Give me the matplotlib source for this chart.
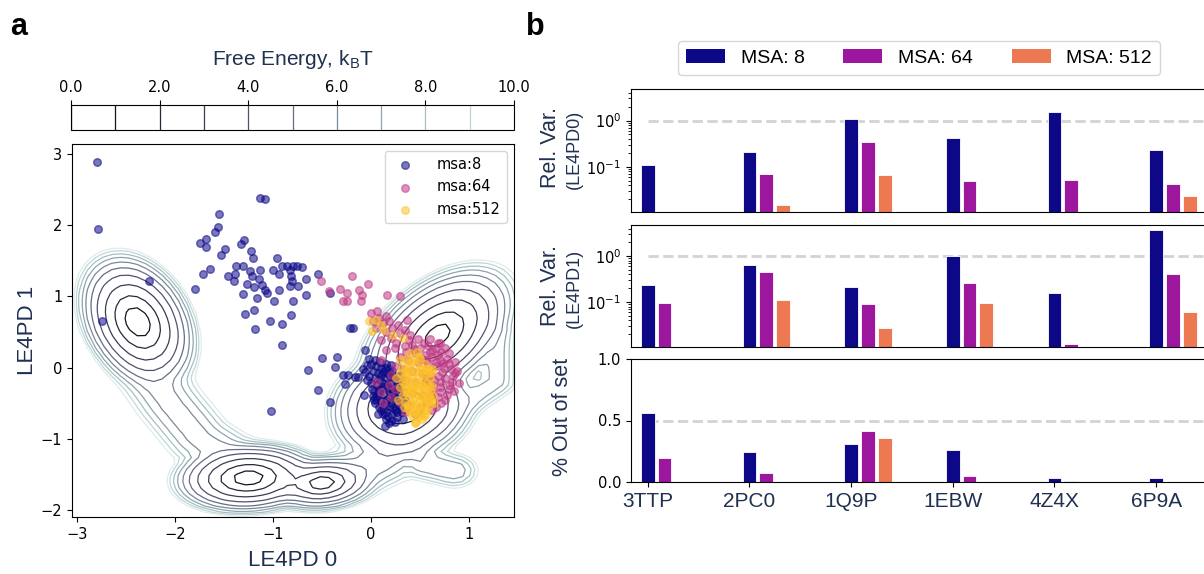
import matplotlib
matplotlib.use('Agg')
import matplotlib.pyplot as plt
import numpy as np
from matplotlib.patches import Patch

# ---------------- panel a data ----------------
msa8_pts = [(-2.79, 2.89), (-2.78, 1.94), (-2.74, 0.66), (-2.26, 1.22), (-1.13, 2.38), (-1.08, 2.37),
            (-1.55, 2.16), (-1.56, 1.98), (-1.59, 1.91), (-1.74, 1.75), (-1.68, 1.81), (-1.68, 1.70),
            (-1.49, 1.66), (-1.53, 1.58), (-1.71, 1.32), (-1.64, 1.38), (-1.80, 1.10), (-1.30, 1.79),
            (-1.33, 1.73), (-1.22, 1.64), (-1.20, 1.54), (-0.96, 1.54), (-1.455, 1.29), (-1.39, 1.32),
            (-1.40, 1.22), (-1.38, 1.43), (-1.31, 1.42), (-1.23, 1.36), (-1.13, 1.37), (-1.21, 1.28),
            (-1.26, 1.18), (-1.14, 1.25), (-1.11, 1.16), (-1.19, 1.13), (-1.08, 1.09), (-1.06, 1.04),
            (-1.16, 0.97), (-1.31, 1.03), (-1.28, 0.75), (-1.19, 0.81), (-1.18, 0.54), (-1.03, 0.66),
            (-0.91, 0.61), (-0.82, 0.74), (-0.80, 0.93), (-0.99, 0.94), (-0.94, 1.09), (-0.83, 1.14),
            (-0.74, 1.15), (-0.66, 1.02), (-0.66, 1.24), (-0.535, 1.31), (-0.42, 1.05), (-1.00, 1.37),
            (-0.94, 1.32), (-0.905, 1.42), (-0.855, 1.42), (-0.83, 1.37), (-0.79, 1.43), (-0.75, 1.42),
            (-0.70, 1.41), (-0.82, 1.28), (-0.81, 1.22), (-0.91, 0.32), (-0.50, 0.14), (-0.35, 0.15),
            (-0.365, 0.01), (-0.64, -0.04), (-0.28, -0.10), (-0.23, -0.10), (-0.13, -0.13), (-0.54, -0.31),
            (-0.42, -0.48), (-1.02, -0.61), (-0.21, 0.56), (-0.18, 0.55), (-0.07, -0.38), (0.03, -0.45),
            (0.18, -0.78), (-0.06, 0.25), (-0.26, -0.23), (-0.16, -0.13),
            (-0.04, 0.03), (0.0, 0.05), (0.05, 0.02), (0.10, 0.0), (0.15, 0.05), (0.02, -0.05),
            (0.07, -0.08), (0.12, -0.06), (0.18, -0.02), (0.22, -0.05), (-0.02, -0.12), (0.04, -0.15),
            (0.09, -0.18), (0.14, -0.14), (0.19, -0.12), (0.24, -0.15), (0.0, -0.22), (0.06, -0.25),
            (0.11, -0.28), (0.16, -0.24), (0.21, -0.22), (0.26, -0.26), (0.03, -0.33), (0.08, -0.36),
            (0.13, -0.38), (0.18, -0.33), (0.23, -0.36), (0.28, -0.34), (0.05, -0.44), (0.10, -0.47),
            (0.15, -0.45), (0.20, -0.42), (0.25, -0.46), (0.30, -0.44), (0.08, -0.55), (0.13, -0.58),
            (0.18, -0.54), (0.23, -0.57), (0.28, -0.53), (0.12, -0.66), (0.17, -0.68), (0.22, -0.65),
            (0.27, -0.70), (0.32, -0.62), (0.20, -0.75), (-0.06, -0.06), (0.30, -0.10), (0.33, -0.20),
            (-0.02, 0.12), (0.04, 0.10), (0.09, 0.08), (0.14, 0.0), (0.20, 0.03), (-0.08, -0.02),
            (-0.04, -0.18), (0.01, -0.30), (0.06, -0.40), (0.10, -0.10), (0.16, -0.08), (0.22, -0.10),
            (0.27, -0.20), (0.12, -0.22), (0.17, -0.29), (0.22, -0.30), (0.08, -0.30), (0.15, -0.50),
            (0.20, -0.50), (0.25, -0.60), (0.10, -0.60), (0.15, -0.62), (0.30, -0.55), (0.24, -0.40),
            (0.04, -0.50), (0.07, -0.65), (0.15, -0.72), (0.25, -0.76), (0.33, -0.72), (0.14, -0.82),
            (0.27, -0.62), (0.30, -0.30), (0.35, -0.45), (0.02, -0.40)]

msa64_pts = [(-0.51, 1.21), (-0.43, 1.08), (-0.32, 1.10), (-0.19, 1.28), (-0.24, 1.04), (-0.24, 0.93),
             (-0.28, 0.93), (-0.12, 1.09), (-0.09, 1.02), (-0.10, 0.93), (-0.03, 1.17), (0.165, 1.02),
             (0.30, 1.01), (0.0, 0.76), (0.06, 0.79), (0.15, 0.72), (0.37, 0.67), (0.35, 0.53), (0.39, 0.39),
             (0.02, 0.65), (0.08, 0.70), (0.12, 0.62), (0.18, 0.66), (0.05, 0.55), (0.15, 0.50), (0.22, 0.56),
             (0.28, 0.60), (0.30, 0.48), (0.20, 0.42), (0.10, 0.38), (0.26, 0.35), (0.35, 0.30), (0.42, 0.32),
             (0.50, 0.28), (0.58, 0.30), (0.66, 0.27), (0.72, 0.22), (0.45, 0.20), (0.55, 0.18), (0.62, 0.15),
             (0.70, 0.10), (0.78, 0.12), (0.30, 0.15), (0.38, 0.10), (0.48, 0.08), (0.58, 0.05), (0.66, 0.02),
             (0.75, 0.0), (0.82, -0.02), (0.86, -0.08), (0.25, 0.02), (0.33, -0.02), (0.42, -0.05),
             (0.52, -0.08), (0.60, -0.10), (0.68, -0.12), (0.76, -0.15), (0.83, -0.20), (0.20, -0.10),
             (0.28, -0.15), (0.36, -0.18), (0.45, -0.20), (0.55, -0.22), (0.63, -0.25), (0.71, -0.28),
             (0.80, -0.30), (0.85, -0.33), (0.18, -0.25), (0.25, -0.30), (0.33, -0.33), (0.42, -0.36),
             (0.52, -0.38), (0.60, -0.40), (0.68, -0.42), (0.76, -0.45), (0.10, -0.35), (0.20, -0.42),
             (0.30, -0.48), (0.40, -0.52), (0.50, -0.55), (0.58, -0.50), (0.66, -0.55), (0.35, -0.62),
             (0.45, -0.65), (0.12, -0.50), (0.05, -0.20), (0.10, 0.10), (0.15, 0.25), (0.40, 0.45),
             (0.48, 0.40), (0.60, 0.40), (0.70, 0.35), (0.80, 0.20), (0.88, -0.05),
             (0.52, 0.12), (0.60, 0.22), (0.68, 0.18), (0.74, 0.06), (0.80, 0.05), (0.84, -0.12),
             (0.80, -0.24), (0.72, -0.20), (0.64, -0.18), (0.56, -0.15), (0.70, -0.35), (0.78, -0.38),
             (0.62, -0.32), (0.73, -0.06), (0.66, 0.08), (0.56, 0.10), (0.76, 0.28), (0.68, 0.35),
             (0.62, 0.25), (0.90, -0.22), (0.86, 0.08), (0.54, 0.34), (0.44, 0.26), (0.36, 0.22),
             (0.25, 0.28), (0.72, -0.50), (0.62, -0.60)]

msa512_pts = [(-0.02, 0.65), (0.05, 0.67), (0.10, 0.60), (0.01, 0.51), (0.13, 0.53), (0.23, 0.46),
              (0.33, 0.41), (0.49, 0.15), (0.62, -0.02), (0.45, -0.78),
              (0.30, 0.10), (0.36, 0.12), (0.42, 0.08), (0.50, 0.12), (0.55, 0.05), (0.32, 0.0), (0.38, -0.02),
              (0.45, 0.02), (0.52, -0.03), (0.58, -0.02), (0.62, -0.06), (0.30, -0.08), (0.36, -0.12),
              (0.42, -0.10), (0.48, -0.14), (0.54, -0.10), (0.60, -0.15), (0.33, -0.20), (0.39, -0.22),
              (0.45, -0.20), (0.51, -0.24), (0.57, -0.22), (0.62, -0.26), (0.30, -0.28), (0.36, -0.30),
              (0.42, -0.32), (0.48, -0.30), (0.54, -0.34), (0.60, -0.32), (0.33, -0.38), (0.39, -0.40),
              (0.45, -0.42), (0.51, -0.40), (0.57, -0.44), (0.63, -0.40), (0.35, -0.48), (0.41, -0.50),
              (0.47, -0.52), (0.53, -0.50), (0.59, -0.54), (0.38, -0.58), (0.44, -0.60), (0.50, -0.62),
              (0.56, -0.60), (0.42, -0.68), (0.48, -0.70), (0.54, -0.68), (0.46, -0.76), (0.28, -0.45),
              (0.26, -0.15), (0.64, -0.50), (0.40, 0.20), (0.47, 0.22), (0.36, -0.06), (0.44, -0.26),
              (0.50, -0.46), (0.40, -0.35), (0.56, -0.30),
              (0.40, -0.05), (0.46, -0.06), (0.52, -0.16), (0.58, -0.08), (0.34, -0.15), (0.40, -0.17),
              (0.47, -0.24), (0.53, -0.28), (0.59, -0.26), (0.35, -0.25), (0.41, -0.27), (0.47, -0.36),
              (0.53, -0.42), (0.59, -0.38), (0.37, -0.35), (0.43, -0.45), (0.49, -0.56), (0.55, -0.55),
              (0.61, -0.46), (0.38, -0.52), (0.44, -0.55), (0.50, -0.66), (0.56, -0.65), (0.40, -0.62),
              (0.46, -0.64), (0.52, -0.72), (0.58, -0.48), (0.34, -0.55), (0.50, 0.0), (0.44, 0.14),
              (0.38, 0.05), (0.56, -0.04)]

# free energy basins: centre x, centre y, semi-axis a, semi-axis b, angle (deg), depth (kT)
basin_cx = [-2.38, -1.25, -0.50, 0.68, 0.32]
basin_cy = [0.64, -1.55, -1.62, 0.45, -0.55]
basin_a = [1.02, 0.80, 0.62, 1.15, 0.85]
basin_b = [0.58, 0.52, 0.42, 0.65, 0.75]
basin_ang = [106, 5, 10, 57, 60]
basin_depth = [0.5, 0.6, 1.5, 0.8, 1.0]

# shallow valleys linking basins: path vertices, floor (kT), half-width
valley_paths = [[(-2.35, 0.1), (-2.05, -0.5), (-1.75, -1.0), (-1.35, -1.35)],
                [(-0.2, -1.5), (0.1, -1.3), (0.3, -1.0)],
                [(0.9, 1.0), (1.28, 0.5), (1.28, -0.2), (0.75, -0.7)],
                [(0.3, -0.9), (0.55, -1.35), (0.85, -1.45)]]
valley_floor = [6.3, 6.0, 7.2, 6.8]
valley_width = [0.35, 0.35, 0.22, 0.25]

# ---------------- panel b data ----------------
proteins = ['3TTP', '2PC0', '1Q9P', '1EBW', '4Z4X', '6P9A']
msa_labels = ['MSA: 8', 'MSA: 64', 'MSA: 512']
relvar0 = [[0.109, 0.212, 1.07, 0.413, 1.52, 0.226],
           [np.nan, 0.069, 0.344, 0.0488, 0.052, 0.0413],
           [np.nan, 0.0149, 0.066, np.nan, np.nan, 0.0234]]
relvar1 = [[0.24, 0.657, 0.217, 1.0, 0.16, 3.71],
           [0.098, 0.447, 0.090, 0.265, 0.0122, 0.417],
           [np.nan, 0.112, 0.0274, 0.098, np.nan, 0.0614]]
out_of_set = [[0.559, 0.243, 0.313, 0.262, 0.035, 0.030],
              [0.196, 0.071, 0.411, 0.052, 0.008, np.nan],
              [np.nan, np.nan, 0.357, np.nan, np.nan, np.nan]]

bar_colors = ['#0d0887', '#9c179e', '#ed7953']
label_color = '#1f3050'
sans = ['Liberation Sans', 'DejaVu Sans']

fig = plt.figure(figsize=(12.04, 5.74), dpi=100)
W, H = 1204, 574


def px_axes(l, t, r, b):
    return fig.add_axes([l / W, 1 - b / H, (r - l) / W, (b - t) / H])


def dist_to_path(px, py, path):
    best = np.full(px.shape, np.inf)
    for (x0, y0), (x1, y1) in zip(path[:-1], path[1:]):
        dx, dy = x1 - x0, y1 - y0
        t = np.clip(((px - x0) * dx + (py - y0) * dy) / (dx * dx + dy * dy), 0, 1)
        best = np.minimum(best, np.hypot(px - x0 - t * dx, py - y0 - t * dy))
    return best


# ---------------- panel a ----------------
ax = px_axes(72, 144, 514, 517)
cax = px_axes(71, 105, 514, 130)

xx, yy = np.meshgrid(np.arange(-3.15, 1.6, 0.085), np.arange(-2.2, 3.25, 0.085))
terms = []
for cx, cy, a, b, ang, d in zip(basin_cx, basin_cy, basin_a, basin_b, basin_ang, basin_depth):
    t = np.deg2rad(ang)
    u = ((xx - cx) * np.cos(t) + (yy - cy) * np.sin(t)) / a
    v = (-(xx - cx) * np.sin(t) + (yy - cy) * np.cos(t)) / b
    r = np.sqrt(u ** 2 + v ** 2)
    terms.append(np.exp(-(d + 6 * r + 3 * r ** 6)))
for path, floor, w in zip(valley_paths, valley_floor, valley_width):
    dd = dist_to_path(xx, yy, path) / w
    terms.append(np.exp(-(floor + 4 * dd ** 2)))
F = -np.log(np.sum(terms, axis=0))
F -= F.min()

cs = ax.contour(xx, yy, F, levels=np.arange(0, 11), cmap='bone', vmin=0, vmax=11, linewidths=0.9)

scat_colors = [plt.cm.plasma(0.0), plt.cm.plasma(0.45), plt.cm.plasma(0.87)]
for pts, col, lab in zip([msa8_pts, msa64_pts, msa512_pts], scat_colors, ['msa:8', 'msa:64', 'msa:512']):
    p = np.array(pts)
    ax.scatter(p[:, 0], p[:, 1], s=30, color=col, alpha=0.55, linewidths=1, label=lab, zorder=3)

ax.set_xlim(-3.05, 1.46)
ax.set_ylim(-2.1, 3.14)
ax.set_xticks([-3, -2, -1, 0, 1])
ax.set_yticks([-2, -1, 0, 1, 2, 3])
ax.tick_params(labelsize=10.5)
ax.set_xlabel('LE4PD 0', fontsize=16, family=sans, color=label_color, labelpad=6)
ax.set_ylabel('LE4PD 1', fontsize=16, family=sans, color=label_color, labelpad=2)
ax.legend(loc='upper right', fontsize=10.5, handletextpad=1.2)

cb = fig.colorbar(cs, cax=cax, orientation='horizontal', ticks=range(0, 11, 2), format='%.1f')
cax.xaxis.set_ticks_position('top')
cax.xaxis.set_label_position('top')
cax.tick_params(labelsize=10.5)
cb.set_label('Free Energy, k$_\\mathregular{B}$T', fontsize=15, family=sans, color=label_color, labelpad=11)

# ---------------- panel b ----------------
left, right = 631, 1207
rows = [(89, 212), (225, 347), (359, 482)]
axes_b = [px_axes(left, t, right, b) for t, b in rows]
x = np.arange(len(proteins))
pitch, width = 0.165, 0.135

for axb, data in zip(axes_b, [relvar0, relvar1, out_of_set]):
    for i, vals in enumerate(data):
        axb.bar(x + i * pitch, vals, width=width, color=bar_colors[i], edgecolor='white', linewidth=0.6)
    axb.set_xlim(-0.165, 5.5)
    axb.spines['right'].set_visible(False)
    axb.tick_params(labelsize=10.5)

for axb in axes_b[:2]:
    axb.set_yscale('log')
    axb.set_ylim(0.0105, 4.8)
    axb.set_yticks([0.1, 1])
    axb.hlines(1, 0, 6, colors='lightgray', linestyles='--', linewidth=2, zorder=0)
    axb.set_xticks([])

axes_b[2].set_ylim(0, 1)
axes_b[2].set_yticks([0.0, 0.5, 1.0])
axes_b[2].hlines(0.5, 0, 6, colors='lightgray', linestyles='--', linewidth=2, zorder=0)
axes_b[2].set_xticks(x)
axes_b[2].set_xticklabels(proteins, fontsize=15, family=sans, color=label_color)

fig.text(551 / W, 1 - 147 / H, 'Rel. Var.', rotation=90, ha='center', va='center', fontsize=15.5,
         family=sans, color=label_color)
fig.text(574 / W, 1 - 149 / H, '(LE4PD0)', rotation=90, ha='center', va='center', fontsize=13,
         family=sans, color=label_color)
fig.text(551 / W, 1 - 286 / H, 'Rel. Var.', rotation=90, ha='center', va='center', fontsize=15.5,
         family=sans, color=label_color)
fig.text(574 / W, 1 - 288 / H, '(LE4PD1)', rotation=90, ha='center', va='center', fontsize=13,
         family=sans, color=label_color)
fig.text(563 / W, 1 - 417 / H, '% Out of set', rotation=90, ha='center', va='center', fontsize=15.5,
         family=sans, color=label_color)

handles = [Patch(facecolor=c) for c in bar_colors]
fig.legend(handles, msa_labels, ncol=3, loc='center', bbox_to_anchor=(919 / W, 1 - 58 / H),
           prop={'family': sans, 'size': 14})

fig.text(10 / W, 1 - 35 / H, 'a', fontsize=22, fontweight='bold', family=sans, va='baseline')
fig.text(526 / W, 1 - 35 / H, 'b', fontsize=22, fontweight='bold', family=sans, va='baseline')

fig.savefig('out.png', dpi=100)
